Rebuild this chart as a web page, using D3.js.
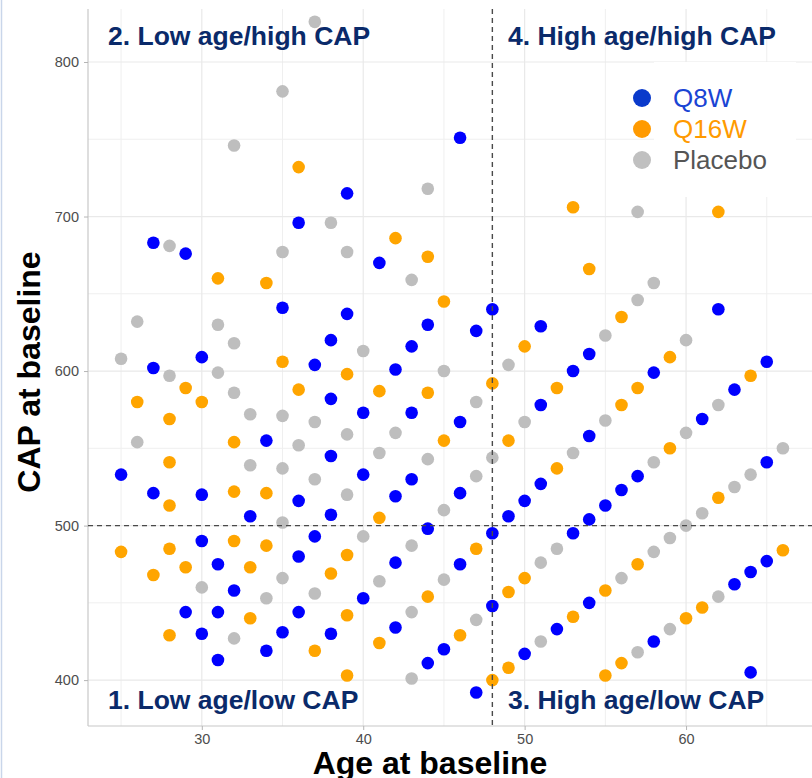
<!DOCTYPE html>
<html>
<head>
<meta charset="utf-8">
<script src="https://cdn.jsdelivr.net/npm/d3@7"></script>
<style>
  html, body { margin: 0; padding: 0; background: #fff; }
  svg { display: block; font-family: "Liberation Sans", Arial, sans-serif; }
</style>
</head>
<body>
<div id="chart"></div>
<script>
// [age, CAP] pairs
const q8w = [
  [25,533],[27,683],[27,602],[27,521],[29,676],[29,444],[30,609],[30,520],[30,490],[30,430],
  [31,475],[31,444],[31,413],[32,458],[33,506],[34,555],[34,419],[35,641],[35,431],[36,696],
  [36,516],[36,480],[36,444],[37,604],[37,493],[38,620],[38,582],[38,545],[38,507],[38,430],
  [39,715],[39,637],[40,573],[40,533],[40,453],[41,670],[42,601],[42,519],[42,476],[42,434],
  [43,616],[43,573],[43,530],[44,630],[44,498],[44,411],[45,420],[46,751],[46,567],[46,521],
  [46,475],[47,626],[47,392],[48,640],[48,495],[48,448],[49,506],[50,516],[50,417],[51,629],
  [51,578],[51,527],[52,433],[53,600],[53,495],[54,611],[54,558],[54,504],[54,450],[55,513],
  [56,523],[57,532],[58,599],[58,425],[61,569],[62,640],[63,588],[63,462],[64,470],[64,405],
  [65,606],[65,541],[65,477]
];
const q16w = [
  [25,483],[26,580],[27,468],[28,569],[28,541],[28,513],[28,485],[28,429],[29,589],[29,473],
  [30,580],[31,660],[32,554],[32,522],[32,490],[33,473],[33,440],[34,657],[34,521],[34,487],
  [35,606],[36,732],[36,588],[37,419],[38,469],[39,598],[39,481],[39,442],[39,403],[41,587],
  [41,505],[41,424],[42,686],[44,674],[44,586],[44,454],[45,645],[45,555],[46,429],[47,485],
  [48,592],[48,400],[49,555],[49,457],[49,408],[50,616],[50,466],[52,589],[52,537],[53,706],
  [53,441],[54,666],[55,458],[55,403],[56,635],[56,578],[56,411],[57,589],[57,475],[59,609],
  [59,550],[60,440],[61,447],[62,703],[62,518],[64,597],[66,484]
];
const placebo = [
  [25,608],[26,632],[26,554],[28,681],[28,597],[30,460],[31,630],[31,599],[32,746],[32,618],
  [32,586],[32,427],[33,572],[33,539],[34,453],[35,781],[35,677],[35,571],[35,537],[35,502],
  [35,466],[36,552],[37,826],[37,567],[37,530],[37,456],[38,696],[39,677],[39,559],[39,520],
  [40,613],[40,493],[41,547],[41,464],[42,560],[43,659],[43,487],[43,444],[43,401],[44,718],
  [44,543],[45,600],[45,510],[45,465],[47,580],[47,532],[47,439],[48,544],[49,604],[50,567],
  [51,476],[51,425],[52,485],[53,547],[55,623],[55,568],[56,466],[57,703],[57,646],[57,418],
  [58,657],[58,541],[58,483],[59,492],[59,433],[60,620],[60,560],[60,500],[61,508],[62,578],
  [62,454],[63,525],[64,533],[66,550]
];
const groups = ["Q8W", "Q16W", "Placebo"];
const xTicks = [30, 40, 50, 60];
const xMinor = [25, 35, 45, 55, 65];
const yTicks = [400, 500, 600, 700, 800];
const yMinor = [450, 550, 650, 750];
const ageCut = 48;
const capCut = 500;
const quadrants = [
  { text: "2. Low age/high CAP", side: "left", pos: "top" },
  { text: "4. High age/high CAP", side: "right", pos: "top" },
  { text: "1. Low age/low CAP", side: "left", pos: "bottom" },
  { text: "3. High age/low CAP", side: "right", pos: "bottom" }
];

const W = 812, H = 778;
const pLeft = 88, pRight = 816, pTop = 9, pBottom = 726;

const svg = d3.select("#chart").append("svg")
    .attr("width", W)
    .attr("height", H);

const x = d3.scaleLinear().domain([22.95, 68.05]).range([pLeft, pRight]);
const y = d3.scaleLinear().domain([370.3, 834.3]).range([pBottom, pTop]);
const color = d3.scaleOrdinal().domain(groups).range(["#0000ff", "#ffa500", "#bebebe"]);

// faint edge line at the very left of the picture
svg.append("line").attr("x1", 1.5).attr("x2", 1.5).attr("y1", 0).attr("y2", H)
    .attr("stroke", "#c9d6ea").attr("stroke-width", 1.5);

// grid
const grid = svg.append("g");
grid.selectAll(".vminor").data(xMinor).join("line")
    .attr("x1", d => x(d)).attr("x2", d => x(d)).attr("y1", pTop).attr("y2", pBottom)
    .attr("stroke", "#efefef").attr("stroke-width", 1);
grid.selectAll(".hminor").data(yMinor).join("line")
    .attr("y1", d => y(d)).attr("y2", d => y(d)).attr("x1", pLeft).attr("x2", W)
    .attr("stroke", "#efefef").attr("stroke-width", 1);
grid.selectAll(".vmajor").data(xTicks).join("line")
    .attr("x1", d => x(d)).attr("x2", d => x(d)).attr("y1", pTop).attr("y2", pBottom)
    .attr("stroke", "#e9e9e9").attr("stroke-width", 1.2);
grid.selectAll(".hmajor").data(yTicks).join("line")
    .attr("y1", d => y(d)).attr("y2", d => y(d)).attr("x1", pLeft).attr("x2", W)
    .attr("stroke", "#e9e9e9").attr("stroke-width", 1.2);

// axes
const xAxis = svg.append("g").attr("transform", `translate(0,${pBottom})`)
    .call(d3.axisBottom(x).tickValues(xTicks).tickSize(4).tickPadding(4));
const yAxis = svg.append("g").attr("transform", `translate(${pLeft},0)`)
    .call(d3.axisLeft(y).tickValues(yTicks).tickSize(4).tickPadding(5));
[xAxis, yAxis].forEach(a => {
    a.select(".domain").attr("stroke", "#c8c8c8").attr("stroke-width", 1.2);
    a.selectAll(".tick line").attr("stroke", "#b5b5b5");
    a.selectAll(".tick text").attr("fill", "#4d4d4d").style("font-size", "14.5px")
        .style("font-family", "Liberation Sans, Arial, sans-serif");
});
yAxis.select(".domain").attr("d", `M0,${pTop}V${pBottom}`);
xAxis.select(".domain").attr("d", `M${pLeft},0H${W}`);

// points
const series = [[placebo, "Placebo"], [q16w, "Q16W"], [q8w, "Q8W"]];
series.forEach(([data, g]) => {
    svg.append("g").selectAll("circle").data(data).join("circle")
        .attr("cx", d => x(d[0]))
        .attr("cy", d => y(d[1]))
        .attr("r", 6.3)
        .attr("fill", color(g));
});

// cut lines
svg.append("line")
    .attr("x1", x(ageCut)).attr("x2", x(ageCut)).attr("y1", pTop).attr("y2", pBottom)
    .attr("stroke", "#4a4a4a").attr("stroke-width", 1.4).attr("stroke-dasharray", "5,4");
svg.append("line")
    .attr("y1", y(capCut)).attr("y2", y(capCut)).attr("x1", pLeft).attr("x2", W)
    .attr("stroke", "#4a4a4a").attr("stroke-width", 1.4).attr("stroke-dasharray", "5,4");

// quadrant labels
svg.append("g").selectAll("text").data(quadrants).join("text")
    .attr("x", d => d.side === "left" ? 108 : 508)
    .attr("y", d => d.pos === "top" ? 45 : 709)
    .attr("fill", "#0a2a6a")
    .style("font-size", "26.5px")
    .style("font-weight", "bold")
    .text(d => d.text);

// legend
const legend = svg.append("g");
legend.append("rect").attr("x", 654).attr("y", 62).attr("width", 142).attr("height", 135)
    .attr("fill", "#fff");
const legendColors = ["#0a3acb", "#ff9a00", "#c0c0c0"];
const legendText = ["#1a44d4", "#ff9a00", "#555555"];
groups.forEach((g, i) => {
    legend.append("circle").attr("cx", 642).attr("cy", 98 + i * 31).attr("r", 9)
        .attr("fill", legendColors[i]);
    legend.append("text").attr("x", 673).attr("y", 107 + i * 31)
        .attr("fill", legendText[i]).style("font-size", "26px").text(g);
});

// axis titles
svg.append("text").attr("x", 430).attr("y", 774).attr("text-anchor", "middle")
    .style("font-size", "32px").style("font-weight", "bold").attr("fill", "#000")
    .text("Age at baseline");
svg.append("text").attr("transform", "translate(40,372) rotate(-90)")
    .attr("text-anchor", "middle")
    .style("font-size", "32px").style("font-weight", "bold").attr("fill", "#000")
    .text("CAP at baseline");
</script>
</body>
</html>
